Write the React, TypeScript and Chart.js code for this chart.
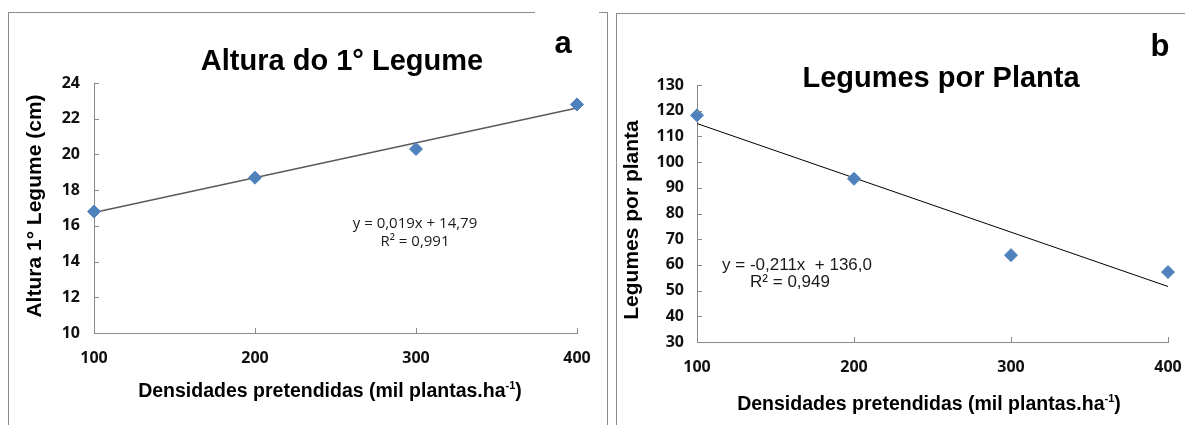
import React, { useEffect, useRef } from 'react';
import { Chart, registerables } from 'chart.js';

Chart.register(...registerables);

// ---------- data ----------
const densities = [100, 200, 300, 400];
const alturaValues = [16.8, 18.7, 20.3, 22.8];
const alturaTrendX = [100, 400];
const alturaTrendY = [16.75, 22.6];
const alturaTicks = [10, 12, 14, 16, 18, 20, 22, 24];

const legumesValues = [118.2, 93.5, 63.8, 57.2];
const legumesTrendX = [100, 400];
const legumesTrendY = [115.0, 51.6];
const legumesTicks = [30, 40, 50, 60, 70, 80, 90, 100, 110, 120, 130];

const xTicks = [100, 200, 300, 400];

const titleA = 'Altura do 1° Legume';
const titleB = 'Legumes por Planta';
const yTitleA = 'Altura 1° Legume (cm)';
const yTitleB = 'Legumes por planta';
const xTitleMain = 'Densidades pretendidas (mil plantas.ha';
const xTitleSup = '-1';
const xTitleEnd = ')';
const eqA = ['y = 0,019x + 14,79', 'R² = 0,991'];
const eqB = ['y = -0,211x  + 136,0', 'R² = 0,949'];

const BLUE = '#4F81BD';
const AXIS = '#8a8a8a';

type Panel = {
  left: number;
  width: number;
  area: { left: number; right: number; top: number; bottom: number };
  xs: number[];
  ys: number[];
  trendX: number[];
  trendY: number[];
  trendColor: string;
  trendWidth: number;
  yTicks: number[];
  yPad: number;
  xPad: number;
  title: string;
  titleX: number;
  titleY: number;
  letter: string;
  letterX: number;
  letterY: number;
  yTitle: string;
  yTitleX: number;
  yTitleY: number;
  xTitleX: number;
  xTitleY: number;
  eq: string[];
  eqX: number[];
  eqY: number[];
  eqFont: string;
};

const FONT_ARIAL = '"Liberation Sans", Arial, sans-serif';
const FONT_TICK = '"Open Sans", "Noto Sans", sans-serif';
const TICK_SIZE = 16;

const panelA: Panel = {
  left: 0,
  width: 612,
  area: { left: 94, right: 577, top: 83, bottom: 333 },
  xs: densities,
  ys: alturaValues,
  trendX: alturaTrendX,
  trendY: alturaTrendY,
  trendColor: '#5a5a5a',
  trendWidth: 1.4,
  yTicks: alturaTicks,
  yPad: 14,
  xPad: 16,
  title: titleA,
  titleX: 342,
  titleY: 70,
  letter: 'a',
  letterX: 563,
  letterY: 53,
  yTitle: yTitleA,
  yTitleX: 35,
  yTitleY: 206,
  xTitleX: 330,
  xTitleY: 397,
  eq: eqA,
  eqX: [415, 415],
  eqY: [228, 246],
  eqFont: `15px ${FONT_TICK}`,
};

const panelB: Panel = {
  left: 612,
  width: 573,
  area: { left: 697, right: 1168, top: 85, bottom: 342 },
  xs: densities,
  ys: legumesValues,
  trendX: legumesTrendX,
  trendY: legumesTrendY,
  trendColor: '#000000',
  trendWidth: 1,
  yTicks: legumesTicks,
  yPad: 13,
  xPad: 16,
  title: titleB,
  titleX: 941,
  titleY: 87,
  letter: 'b',
  letterX: 1160,
  letterY: 56,
  yTitle: yTitleB,
  yTitleX: 632,
  yTitleY: 220,
  xTitleX: 929,
  xTitleY: 410,
  eq: eqB,
  eqX: [797, 790],
  eqY: [270, 287],
  eqFont: `17px ${FONT_ARIAL}`,
};

const H = 425;

function buildChart(canvas: HTMLCanvasElement, p: Panel) {
  const off = p.left;
  const areaL = p.area.left - off;
  const areaR = p.area.right - off;

  const textPlugin = {
    id: 'panelText',
    afterDraw(chart: any) {
      const ctx = chart.ctx as CanvasRenderingContext2D;
      const xScale = chart.scales.x;
      const yScale = chart.scales.y;
      const ca = chart.chartArea;
      ctx.save();
      // inner tick marks
      ctx.strokeStyle = AXIS;
      ctx.lineWidth = 1;
      ctx.beginPath();
      for (const v of p.yTicks) {
        const py = Math.round(yScale.getPixelForValue(v)) + 0.5;
        ctx.moveTo(ca.left, py);
        ctx.lineTo(ca.left + 5, py);
      }
      for (const v of xTicks) {
        const px = Math.round(xScale.getPixelForValue(v)) + 0.5;
        ctx.moveTo(px, ca.bottom);
        ctx.lineTo(px, ca.bottom - 5);
      }
      ctx.stroke();

      ctx.fillStyle = '#000';
      ctx.textAlign = 'center';
      ctx.textBaseline = 'alphabetic';
      // title
      ctx.font = `bold 29px ${FONT_ARIAL}`;
      ctx.fillText(p.title, p.titleX - off, p.titleY);
      // letter
      ctx.font = `bold 31px ${FONT_ARIAL}`;
      ctx.fillText(p.letter, p.letterX - off, p.letterY);
      // y title
      ctx.save();
      ctx.translate(p.yTitleX - off, p.yTitleY);
      ctx.rotate(-Math.PI / 2);
      ctx.font = `bold 21px ${FONT_ARIAL}`;
      ctx.textBaseline = 'middle';
      ctx.fillText(p.yTitle, 0, 0);
      ctx.restore();
      // x title with superscript
      const mainFont = `bold 19.5px ${FONT_ARIAL}`;
      const supFont = `bold 11px ${FONT_ARIAL}`;
      ctx.font = mainFont;
      const w1 = ctx.measureText(xTitleMain).width;
      const w3 = ctx.measureText(xTitleEnd).width;
      ctx.font = supFont;
      const w2 = ctx.measureText(xTitleSup).width;
      const total = w1 + w2 + w3;
      let sx = p.xTitleX - off - total / 2;
      ctx.textAlign = 'left';
      ctx.font = mainFont;
      ctx.fillText(xTitleMain, sx, p.xTitleY);
      sx += w1;
      ctx.font = supFont;
      ctx.fillText(xTitleSup, sx, p.xTitleY - 8);
      sx += w2;
      ctx.font = mainFont;
      ctx.fillText(xTitleEnd, sx, p.xTitleY);
      // equation
      ctx.textAlign = 'center';
      ctx.font = p.eqFont;
      ctx.fillStyle = '#1a1a1a';
      p.eq.forEach((line, i) => ctx.fillText(line, p.eqX[i] - off, p.eqY[i]));
      ctx.restore();
    },
  };

  const hiddenGrid = (len: number) => ({
    display: true,
    drawOnChartArea: false,
    drawTicks: true,
    tickLength: len,
    tickColor: 'rgba(0,0,0,0)',
    color: 'rgba(0,0,0,0)',
  });

  return new Chart(canvas, {
    type: 'scatter',
    data: {
      datasets: [
        {
          label: 'obs',
          data: p.xs.map((x, i) => ({ x, y: p.ys[i] })),
          pointStyle: 'rectRot',
          pointRadius: 6.5,
          pointHoverRadius: 6.5,
          backgroundColor: BLUE,
          borderColor: BLUE,
          borderWidth: 1,
          showLine: false,
          clip: false as any,
        },
        {
          label: 'trend',
          data: p.trendX.map((x, i) => ({ x, y: p.trendY[i] })),
          showLine: true,
          pointRadius: 0,
          borderColor: p.trendColor,
          borderWidth: p.trendWidth,
          fill: false,
          clip: false as any,
        },
      ],
    },
    options: {
      responsive: false,
      animation: false,
      devicePixelRatio: 1,
      events: [],
      layout: {
        padding: { left: 0, top: p.area.top, right: p.width - areaR, bottom: 0 },
      },
      plugins: {
        legend: { display: false },
        title: { display: false },
        tooltip: { enabled: false },
      },
      scales: {
        x: {
          type: 'linear',
          min: xTicks[0],
          max: xTicks[xTicks.length - 1],
          afterFit: (s: any) => {
            s.height = H - p.area.bottom;
          },
          afterBuildTicks: (s: any) => {
            s.ticks = xTicks.map((v) => ({ value: v }));
          },
          grid: hiddenGrid(p.xPad),
          border: { display: true, color: AXIS, width: 1 },
          ticks: {
            padding: 0,
            color: '#111',
            font: { family: FONT_TICK, size: TICK_SIZE, weight: 'bold' },
            maxRotation: 0,
          },
        },
        y: {
          type: 'linear',
          min: p.yTicks[0],
          max: p.yTicks[p.yTicks.length - 1],
          afterFit: (s: any) => {
            s.width = areaL;
          },
          afterBuildTicks: (s: any) => {
            s.ticks = p.yTicks.map((v) => ({ value: v }));
          },
          grid: hiddenGrid(p.yPad),
          border: { display: true, color: AXIS, width: 1 },
          ticks: {
            padding: 0,
            color: '#111',
            font: { family: FONT_TICK, size: TICK_SIZE, weight: 'bold' },
          },
        },
      },
    },
    plugins: [textPlugin],
  } as any);
}

function PanelCanvas({ p }: { p: Panel }) {
  const ref = useRef<HTMLCanvasElement | null>(null);
  useEffect(() => {
    if (!ref.current) return;
    const c = buildChart(ref.current, p);
    return () => c.destroy();
  }, [p]);
  return (
    <canvas
      ref={ref}
      width={p.width}
      height={H}
      style={{ position: 'absolute', left: p.left, top: 0, width: p.width, height: H }}
    />
  );
}

export default function App() {
  return (
    <div
      style={{
        position: 'absolute',
        left: 0,
        top: 0,
        width: 1185,
        height: H,
        overflow: 'hidden',
        background: '#fff',
      }}
    >
      {/* panel frames */}
      <div
        style={{
          position: 'absolute',
          left: 8,
          top: 12,
          width: 600,
          height: 500,
          border: '1px solid #8c8c8c',
          boxSizing: 'border-box',
        }}
      />
      <div
        style={{
          position: 'absolute',
          left: 535,
          top: 10,
          width: 64,
          height: 5,
          background: '#fff',
        }}
      />
      <div
        style={{
          position: 'absolute',
          left: 616,
          top: 13,
          width: 700,
          height: 500,
          border: '1px solid #8c8c8c',
          boxSizing: 'border-box',
        }}
      />
      <PanelCanvas p={panelA} />
      <PanelCanvas p={panelB} />
    </div>
  );
}
